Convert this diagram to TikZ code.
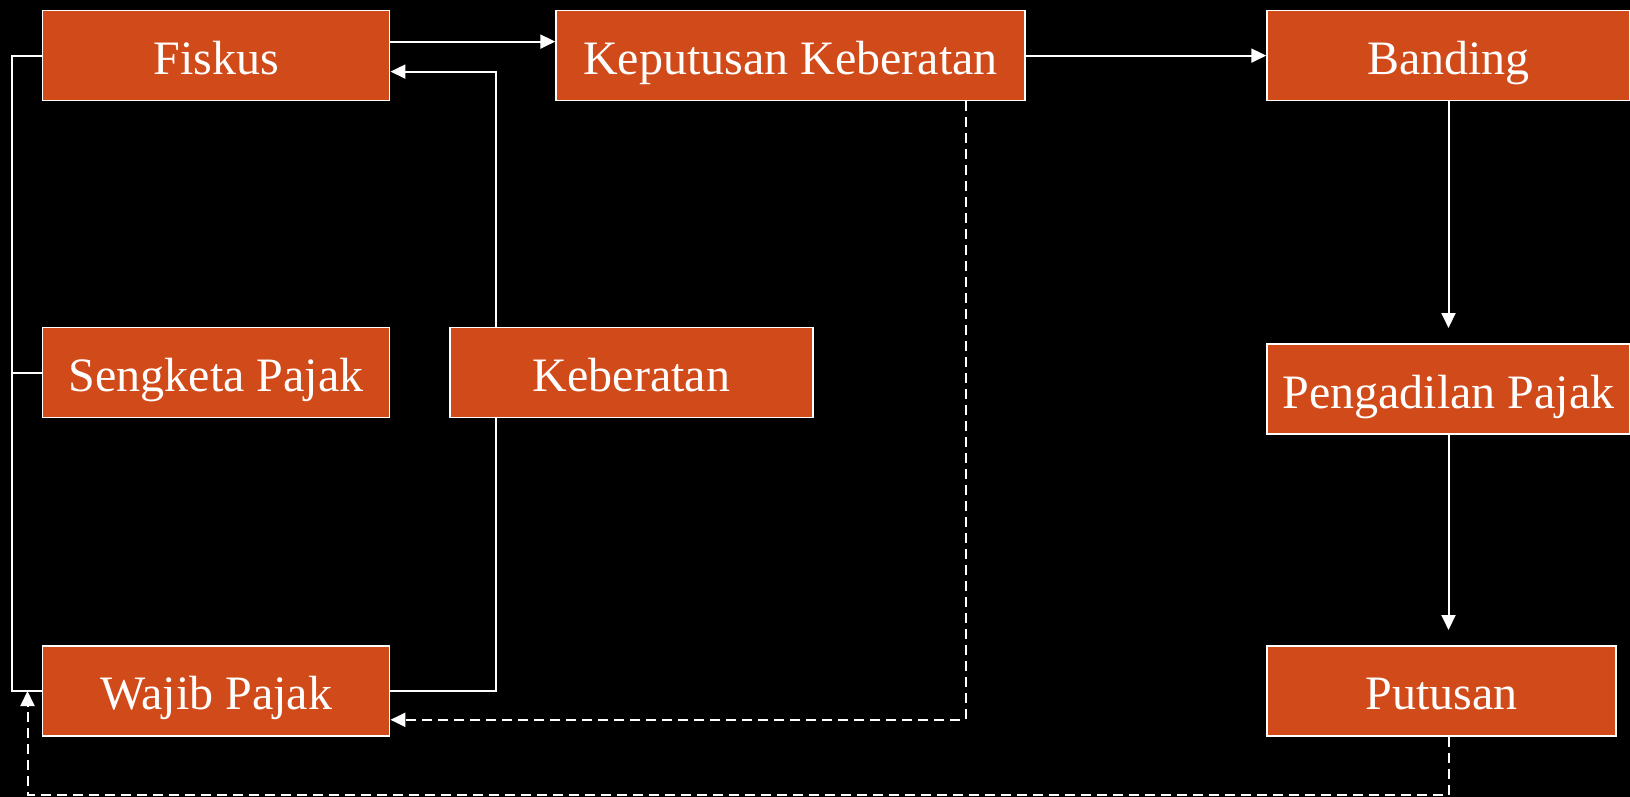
\documentclass[tikz,border=0pt]{standalone}
\usepackage{fontspec}
\setmainfont{Liberation Serif}
\usetikzlibrary{arrows.meta}
\definecolor{boxc}{RGB}{209,74,25}
\tikzset{
  box/.style={draw=white, line width=1.5pt, fill=boxc, text=white, minimum height=90pt, inner sep=0pt, text height=44pt, text depth=6pt, font=\fontsize{48}{56}\selectfont},
  conn/.style={draw=white, line width=2pt},
  arr/.style={conn, -{Triangle[length=15pt,width=14pt]}},
  dasharr/.style={draw=white, line width=2.5pt, dash pattern=on 10pt off 6pt, -{Triangle[length=15pt,width=14pt]}},
  dashthin/.style={draw=white, line width=2pt, dash pattern=on 10pt off 6pt, -{Triangle[length=15pt,width=14pt]}}
}
\begin{document}
\begin{tikzpicture}[x=1pt,y=-1pt]
\fill[black] (0,0) rectangle (1630,797);
\useasboundingbox (0,0) rectangle (1630,797);
\node[box, minimum width=347pt] (fiskus) at (216.2,55.6) {Fiskus};
\node[box, minimum width=469pt] (kk) at (790.5,55.6) {Keputusan Keberatan};
\node[box, minimum width=363pt] (banding) at (1448.5,55.6) {Banding};
\node[box, minimum width=347pt] (sengketa) at (216.2,372.7) {Sengketa Pajak};
\node[box, minimum width=363pt] (keb) at (631.5,372.7) {Keberatan};
\node[box, minimum width=363pt] (peng) at (1448.5,389) {Pengadilan Pajak};
\node[box, minimum width=347pt] (wajib) at (216.2,690.8) {Wajib Pajak};
\node[box, minimum width=349pt] (putusan) at (1441.5,690.8) {Putusan};
\coordinate (t1) at (1448.5,328);
\coordinate (t2) at (1448.5,630);
\coordinate (pb) at (1448.5,795);
\coordinate (wb) at (27.5,795);
\coordinate (wt) at (27.5,691);
% Fiskus -> Keputusan Keberatan
\draw[arr] ([yshift=14pt]fiskus.east) -- ([yshift=14pt]fiskus.east -| kk.west);
% Keberatan -> Fiskus
\draw[arr] ([xshift=-135.5pt]keb.north) |- ([yshift=-16pt]fiskus.east);
% Wajib Pajak -- Keberatan
\draw[conn] (wajib.east) -| ([xshift=-135.5pt]keb.south);
% left bus
\draw[conn] (fiskus.west) -- ++(-30,0) |- (wajib.west);
\draw[conn] (sengketa.west) -- ++(-30,0);
% Keputusan Keberatan -> Banding -> Pengadilan -> Putusan
\draw[arr] (kk.east) -- (banding.west);
\draw[arr] (banding.south) -- (t1);
\draw[arr] (peng.south) -- (t2);
% dashed returns
\draw[dasharr] ([xshift=175.5pt]kk.south) |- ([yshift=-29pt]wajib.east);
\draw[dashthin] (putusan.south -| pb) -- (pb) -- (wb) -- (wt);
\end{tikzpicture}
\end{document}
